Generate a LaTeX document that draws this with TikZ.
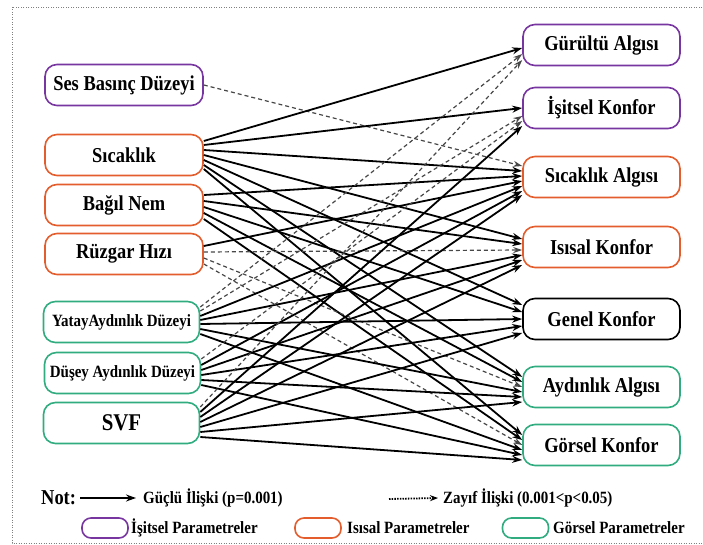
\documentclass[tikz,border=0pt]{standalone}
\usepackage{fontspec}
\setmainfont{Liberation Serif}[FakeStretch=0.87]
\usetikzlibrary{arrows.meta}
\definecolor{pur}{RGB}{120,55,160}
\definecolor{org}{RGB}{228,93,45}
\definecolor{grn}{RGB}{48,172,128}
\begin{document}
\begin{tikzpicture}[x=1pt,y=-1pt,
  box/.style={draw, rounded corners=12pt, line width=1.6pt, minimum height=41pt,
    align=center, inner sep=2pt, font=\bfseries\fontsize{21.2}{23}\selectfont},
  lbox/.style={box, minimum width=158pt},
  gbox/.style={box, draw=grn, minimum width=156pt},
  rbox/.style={box, minimum width=157pt},
  strong/.style={line width=1.8pt, -{Stealth[length=10pt,width=7pt]}},
  weak/.style={line width=1.2pt, draw=black!72, dash pattern=on 4pt off 3pt,
    -{Stealth[length=9pt,width=6pt,fill=black!80]}},
  legtxt/.style={anchor=west, inner sep=0pt, font=\bfseries\fontsize{17.2}{19}\selectfont},
  legbox/.style={draw, rounded corners=9pt, line width=1.6pt, minimum width=46pt, minimum height=20pt, inner sep=0pt},
  frame/.style={draw=gray, line width=0.9pt, dash pattern=on 1pt off 1.5pt}
]
\useasboundingbox (0,0) rectangle (703,545);
\draw[frame] (702,7) -- (12,7) -- (12,543) -- (702,543);

% left nodes
\node[lbox, draw=pur] (S) at (124,85) {Ses Basınç Düzeyi};
\node[lbox, draw=org] (T) at (124,155) {Sıcaklık};
\node[lbox, draw=org] (N) at (124,205) {Bağıl Nem};
\node[lbox, draw=org] (R) at (124,254) {Rüzgar Hızı};
\node[gbox, font=\bfseries\fontsize{17.2}{19}\selectfont] (Y) at (121.5,322) {YatayAydınlık Düzeyi};
\node[gbox, font=\bfseries\fontsize{17.2}{19}\selectfont] (D) at (122.5,373) {Düşey Aydınlık Düzeyi};
\node[gbox, font=\bfseries\fontsize{24}{26}\selectfont] (V) at (121.5,423) {SVF};

% right nodes
\node[rbox, draw=pur] (g) at (601.5,45) {Gürültü Algısı};
\node[rbox, draw=pur] (i) at (601.5,108) {İşitsel Konfor};
\node[rbox, draw=org] (t) at (601.5,177) {Sıcaklık Algısı};
\node[rbox, draw=org] (k) at (601.5,247) {Isısal Konfor};
\node[rbox, draw=black] (e) at (601.5,319) {Genel Konfor};
\node[rbox, draw=grn] (a) at (601.5,387) {Aydınlık Algısı};
\node[rbox, draw=grn] (o) at (601.5,445) {Görsel Konfor};

% Ses
\draw[weak] (S.east) -- ([yshift=11pt]t.west);
% Sicaklik
\draw[strong] ([yshift=14pt]T.east) -- ([yshift=-3pt]g.west);
\draw[strong] ([yshift=10pt]T.east) -- ([yshift=0pt]i.west);
\draw[strong] ([yshift=5pt]T.east) -- ([yshift=6pt]t.west);
\draw[strong] ([yshift=0pt]T.east) -- ([yshift=8pt]k.west);
\draw[strong] ([yshift=-5pt]T.east) -- ([yshift=14pt]e.west);
\draw[strong] ([yshift=-10pt]T.east) -- ([yshift=10pt]a.west);
\draw[strong] ([yshift=-14pt]T.east) -- ([yshift=10pt]o.west);
% Bagil Nem
\draw[strong] ([yshift=10pt]N.east) -- ([yshift=1pt]t.west);
\draw[strong] ([yshift=4pt]N.east) -- ([yshift=3pt]k.west);
\draw[strong] ([yshift=-2pt]N.east) -- ([yshift=7pt]e.west);
\draw[strong] ([yshift=-8pt]N.east) -- ([yshift=5pt]a.west);
\draw[strong] ([yshift=-14pt]N.east) -- ([yshift=5pt]o.west);
% Ruzgar
\draw[strong] ([yshift=8pt]R.east) -- ([yshift=-4pt]t.west);
\draw[weak] ([yshift=2pt]R.east) -- ([yshift=-3pt]k.west);
\draw[weak] ([yshift=-4pt]R.east) -- ([yshift=0pt]a.west);
\draw[weak] ([yshift=-10pt]R.east) -- ([yshift=0pt]o.west);
% Yatay
\draw[weak] ([yshift=15pt]Y.east) -- ([yshift=-9pt]g.west);
\draw[weak] ([yshift=11pt]Y.east) -- ([yshift=-8pt]i.west);
\draw[strong] ([yshift=6pt]Y.east) -- ([yshift=-9pt]t.west);
\draw[strong] ([yshift=2pt]Y.east) -- ([yshift=-8pt]k.west);
\draw[strong] ([yshift=-2pt]Y.east) -- ([yshift=0pt]e.west);
\draw[strong] ([yshift=-7pt]Y.east) -- ([yshift=-5pt]a.west);
\draw[strong] ([yshift=-12pt]Y.east) -- ([yshift=-5pt]o.west);
% Dusey
\draw[weak] ([yshift=14pt]D.east) -- ([yshift=-13pt]i.west);
\draw[strong] ([yshift=8pt]D.east) -- ([yshift=-14pt]t.west);
\draw[strong] ([yshift=3pt]D.east) -- ([yshift=-13pt]k.west);
\draw[strong] ([yshift=-2pt]D.east) -- ([yshift=-7pt]e.west);
\draw[strong] ([yshift=-7pt]D.east) -- ([yshift=-10pt]a.west);
\draw[strong] ([yshift=-12pt]D.east) -- ([yshift=-10pt]o.west);
% SVF
\draw[weak] ([yshift=16pt]V.east) -- ([yshift=-15pt]g.west);
\draw[strong] ([yshift=11pt]V.east) -- ([yshift=-18pt]i.west);
\draw[strong] ([yshift=6pt]V.east) -- ([yshift=-18pt]t.west);
\draw[strong] ([yshift=1pt]V.east) -- ([yshift=-18pt]k.west);
\draw[strong] ([yshift=-4pt]V.east) -- ([yshift=-14pt]e.west);
\draw[strong] ([yshift=-9pt]V.east) -- ([yshift=-15pt]a.west);
\draw[strong] ([yshift=-14pt]V.east) -- ([yshift=-15pt]o.west);

% legend
\node[anchor=west, inner sep=0pt, font=\bfseries\fontsize{21.2}{23}\selectfont] (not) at (41,498) {Not:};
\node[legtxt] (gl) at (143,498) {Güçlü İlişki (p=0.001)};
\draw[strong, line width=1.6pt] ([xshift=4pt]not.east) -- ([xshift=-7pt]gl.west);
\coordinate (ds) at (389,499);
\node[legtxt] (zl) at (443,498) {Zayıf İlişki (0.001<p<0.05)};
\draw[line width=1.8pt, dash pattern=on 1.5pt off 1.2pt, -{Stealth[length=8pt,width=6pt]}] (ds) -- ([xshift=-5pt]zl.west);

\node[legbox, draw=pur] (lp) at (105,528) {};
\node[legtxt] (lpt) at (131,528) {İşitsel Parametreler};
\node[legbox, draw=org] (lo) at (318,528) {};
\node[legtxt] (lot) at (347,528) {Isısal Parametreler};
\node[legbox, draw=grn] (lg) at (525.5,528) {};
\node[legtxt] (lgt) at (553,528) {Görsel Parametreler};
\end{tikzpicture}
\end{document}
